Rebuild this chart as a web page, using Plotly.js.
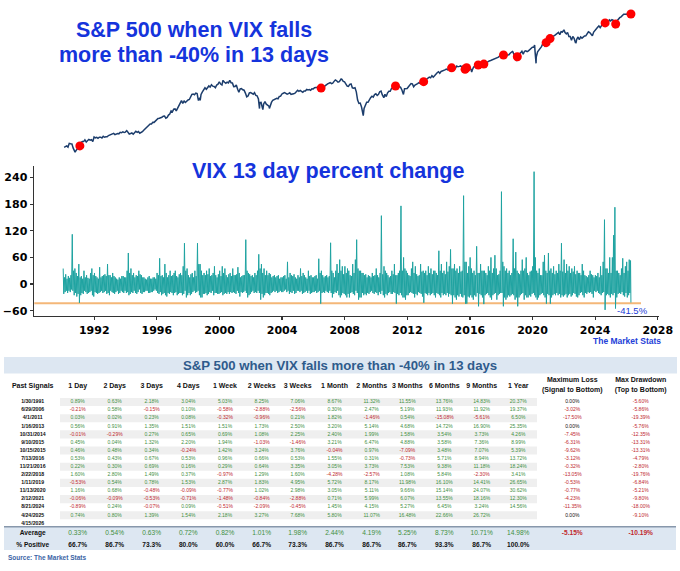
<!DOCTYPE html>
<html><head><meta charset="utf-8">
<script src="https://cdn.plot.ly/plotly-3.0.1.min.js"></script>
<style>html,body{margin:0;padding:0;background:#fff}#chart{width:680px;height:571px}</style>
</head><body><div id="chart"></div>
<script>
// ---------------- DATA ----------------
// S&P 500 month-end levels (Jan 1990 .. Mar 2026), read/ (log scale)
const spxStartYear = 1990;
const spxMonthly = [
 329,332,340,331,361,358,356,323,306,304,322,330,
 344,367,375,375,390,371,388,395,388,392,375,417,
 409,413,404,415,415,408,424,414,418,419,431,436,
 439,443,452,440,450,451,448,464,459,468,462,466,
 482,467,446,451,457,444,458,475,463,472,454,459,
 470,487,501,515,533,545,562,562,584,582,605,616,
 636,640,645,654,669,671,640,652,687,705,757,741,
 786,791,757,801,848,885,954,899,947,915,955,970,
 980,1049,1102,1112,1091,1134,1121,957,1017,1099,1164,1229,
 1280,1238,1286,1335,1302,1373,1329,1320,1283,1363,1389,1469,
 1394,1366,1499,1452,1421,1455,1431,1518,1437,1429,1315,1320,
 1366,1240,1160,1249,1256,1224,1211,1134,1041,1060,1139,1148,
 1130,1107,1147,1076,1067,990,912,916,815,886,936,880,
 856,841,848,917,964,975,990,1008,996,1051,1058,1112,
 1131,1145,1126,1107,1121,1141,1102,1104,1115,1130,1174,1212,
 1181,1204,1181,1157,1192,1191,1234,1220,1229,1207,1249,1248,
 1280,1281,1295,1311,1270,1270,1277,1304,1336,1378,1401,1418,
 1438,1407,1421,1482,1531,1503,1455,1474,1527,1549,1481,1468,
 1379,1331,1323,1386,1400,1280,1267,1283,1166,969,896,903,
 826,735,798,873,919,919,987,1021,1057,1036,1096,1115,
 1074,1104,1169,1187,1089,1031,1102,1049,1141,1183,1181,1258,
 1286,1327,1326,1364,1345,1321,1292,1219,1131,1253,1247,1258,
 1312,1366,1408,1398,1310,1362,1379,1407,1441,1412,1416,1426,
 1498,1515,1569,1598,1631,1606,1686,1633,1682,1757,1806,1848,
 1783,1859,1872,1884,1924,1960,1931,2003,1972,2018,2068,2059,
 1995,2105,2068,2086,2107,2063,2104,1972,1920,2079,2080,2044,
 1940,1932,2060,2065,2097,2099,2174,2171,2168,2126,2199,2239,
 2279,2364,2363,2384,2412,2423,2470,2472,2519,2575,2648,2674,
 2824,2714,2641,2648,2705,2718,2816,2902,2914,2712,2760,2507,
 2704,2784,2834,2946,2752,2942,2980,2926,2977,3038,3141,3231,
 3226,2954,2585,2912,3044,3100,3271,3500,3363,3270,3622,3756,
 3714,3811,3973,4181,4204,4298,4395,4523,4308,4605,4567,4766,
 4516,4374,4530,4132,4132,3785,4130,3955,3586,3872,4080,3840,
 4077,3970,4109,4169,4180,4450,4589,4508,4288,4194,4568,4770,
 4846,5096,5254,5036,5278,5460,5522,5648,5762,5705,6032,5882,
 6041,5955,5612,5569,5912,6205,6339,6460,6688,6840,6849,6845,
 6940,6880,6650
];
// intra-month extremes visible on the line
const spxExtremeDates  = ['1990-10-11','1998-10-08','2000-03-24','2002-07-23','2002-10-09','2003-03-11','2007-10-09','2009-03-09','2010-07-02','2011-10-03','2015-08-25','2016-02-11','2018-01-26','2018-09-20','2018-12-24','2020-02-19','2020-03-23','2022-01-03','2022-10-12','2025-04-08'];
const spxExtremeValues = [295,960,1527,797,777,800,1565,677,1022,1099,1867,1829,2873,2931,2351,3386,2237,4797,3577,4982];

// Signal dates (VIX fell more than -40% in 13 days) and S&P level on those dates
const signalDates = ['1/30/1991','6/29/2006','4/1/2011','1/16/2013','10/31/2014','9/10/2015','10/15/2015','7/13/2016','11/21/2016','2/22/2018','1/11/2019','11/13/2020','2/12/2021','8/21/2024','4/24/2025','4/15/2026'];
const signalSpx   = [340,1272,1332,1472,2018,1952,2023,2152,2198,2703,2596,3585,3934,5620,5484,6890];

// VIX 13-day percent change: monthly high and monthly low readings (Jan 1990 .. Apr 2026)
const vixStartYear = 1990;
const vixMonthlyHigh = [
 35,15,22,12,18,14,20,112,30,35,25,18,
 45,15,18,12,30,15,20,14,12,25,35,20,
 25,18,15,12,38,15,18,20,22,18,45,20,
 20,15,25,18,15,12,10,15,12,18,18,15,
 15,30,70,25,35,20,25,15,20,18,30,22,
 20,15,15,12,10,15,18,12,12,15,15,12,
 25,20,58,18,20,15,45,25,15,20,30,18,
 20,25,30,18,15,22,25,20,40,92,30,35,
 20,15,22,25,15,30,18,92,45,45,30,20,
 25,20,30,22,35,18,20,25,40,20,15,22,
 30,18,40,25,35,20,15,22,25,18,35,20,
 20,22,38,25,15,18,20,20,100,30,25,22,
 18,20,15,25,20,30,67,35,45,25,35,20,
 30,20,25,22,15,18,20,15,18,20,12,15,
 15,18,20,12,50,15,25,20,18,22,15,12,
 20,15,35,18,25,20,15,12,30,18,20,15,
 15,18,20,12,57,25,30,20,15,18,20,15,
 18,93,30,25,15,30,45,25,55,30,40,22,
 40,25,35,30,20,18,45,25,55,100,35,30,
 30,25,25,20,22,15,20,18,15,25,18,20,
 35,20,15,25,154,22,40,30,25,20,15,18,
 30,22,45,20,20,25,30,176,30,60,35,30,
 25,20,18,35,50,25,40,22,18,20,45,28,
 30,25,30,20,40,25,35,22,30,30,25,20,
 75,30,45,25,30,22,50,28,40,78,35,35,
 45,30,35,25,40,28,30,199,50,50,25,40,
 60,35,25,30,20,85,25,25,45,30,30,30,
 25,20,40,30,60,25,35,65,35,20,22,30,
 208,50,40,30,35,25,30,20,25,102,35,72,
 30,25,22,30,55,30,35,60,25,20,28,30,
 40,253,60,30,25,35,20,20,50,65,30,25,
 70,30,35,25,40,22,30,25,45,30,92,28,
 55,25,45,30,40,25,35,28,40,22,30,25,
 25,20,45,30,20,18,15,20,30,22,20,15,
 20,18,25,15,40,20,50,145,35,35,25,60,
 25,60,110,173,30,30,25,20,35,58,25,40,
 50,30,55,53
];
const vixMonthlyLow = [
 -22,-18,-15,-20,-15,-18,-12,-15,-25,-20,-28,-22,
 -42,-25,-20,-22,-15,-18,-22,-20,-18,-15,-25,-28,
 -18,-20,-22,-20,-18,-15,-20,-18,-15,-22,-20,-25,
 -15,-18,-20,-22,-18,-15,-22,-20,-15,-18,-20,-15,
 -20,-18,-25,-22,-18,-20,-15,-20,-22,-18,-12,-20,
 -22,-18,-18,-15,-15,-20,-20,-18,-18,-15,-12,-15,
 -20,-22,-18,-25,-22,-20,-25,-28,-20,-22,-18,-20,
 -25,-20,-18,-25,-22,-20,-20,-25,-22,-15,-30,-25,
 -20,-25,-22,-18,-15,-20,-18,-15,-25,-30,-30,-22,
 -22,-20,-25,-22,-18,-20,-15,-25,-20,-20,-22,-22,
 -20,-18,-25,-22,-20,-22,-18,-22,-18,-20,-18,-20,
 -22,-15,-20,-28,-18,-20,-18,-15,-20,-30,-25,-22,
 -18,-15,-20,-18,-20,-15,-20,-35,-22,-30,-25,-20,
 -20,-22,-25,-20,-18,-15,-18,-15,-20,-18,-15,-18,
 -18,-15,-12,-18,-15,-22,-18,-20,-15,-22,-20,-15,
 -15,-18,-15,-22,-20,-18,-15,-20,-15,-22,-20,-18,
 -18,-15,-20,-18,-15,-44,-20,-18,-20,-15,-18,-20,
 -15,-20,-30,-22,-18,-20,-15,-25,-30,-25,-20,-22,
 -25,-30,-22,-30,-20,-18,-22,-25,-15,-20,-35,-30,
 -30,-20,-25,-22,-25,-20,-22,-18,-15,-20,-22,-18,
 -20,-25,-18,-22,-15,-25,-30,-22,-25,-20,-18,-22,
 -22,-18,-20,-44,-22,-25,-20,-25,-30,-30,-35,-25,
 -25,-20,-18,-20,-22,-30,-22,-25,-18,-20,-22,-28,
 -42,-20,-22,-25,-20,-25,-22,-20,-25,-30,-20,-22,
 -25,-30,-20,-25,-22,-25,-20,-28,-22,-25,-44,-25,
 -30,-35,-25,-28,-22,-28,-30,-25,-44,-44,-28,-30,
 -25,-30,-35,-25,-28,-20,-50,-22,-25,-30,-45,-25,
 -22,-20,-25,-30,-35,-25,-22,-20,-35,-25,-22,-20,
 -20,-50,-30,-35,-30,-25,-28,-25,-22,-25,-35,-30,
 -50,-30,-25,-22,-20,-35,-25,-30,-30,-25,-28,-22,
 -20,-25,-30,-35,-30,-25,-22,-20,-25,-30,-44,-22,
 -25,-44,-30,-25,-22,-25,-20,-25,-22,-30,-25,-28,
 -25,-22,-30,-25,-22,-28,-25,-20,-22,-28,-30,-25,
 -20,-18,-25,-30,-20,-22,-18,-20,-18,-22,-30,-15,
 -18,-15,-20,-22,-25,-20,-18,-58,-25,-22,-25,-30,
 -22,-25,-20,-55,-30,-22,-20,-22,-18,-25,-28,-20,
 -30,-25,-20,-41.5
];
const vixThreshold = -43;
const vixTicks = [-60,0,60,120,180,240];

// Table
const tableHeaders = ['Past Signals','1 Day','2 Days','3 Days','4 Days','1 Week','2 Weeks','3 Weeks','1 Month','2 Months','3 Months','6 Months','9 Months','1 Year','Maximum Loss<br>(Signal to Bottom)','Max Drawdown<br>(Top to Bottom)'];
const r1Day    = [0.89,-0.21,0.03,0.56,-0.01,0.45,0.46,0.53,0.22,1.60,-0.53,1.16,-0.06,-0.89,0.74,null];
const r2Days   = [0.63,0.58,0.02,0.91,-0.29,0.04,0.48,0.43,0.30,2.80,0.54,0.68,-0.09,0.24,0.80,null];
const r3Days   = [2.18,-0.15,0.23,1.35,0.27,1.32,0.34,0.67,0.69,1.49,0.78,-0.48,-0.53,-0.07,1.39,null];
const r4Days   = [3.04,0.10,0.08,1.51,0.65,2.20,-0.24,0.53,0.16,0.37,1.53,-0.09,-0.71,0.09,1.54,null];
const r1Week   = [5.03,-0.58,-0.32,1.51,0.69,1.94,1.42,0.96,0.29,-0.97,2.87,-0.77,-1.48,-0.51,2.18,null];
const r2Weeks  = [8.25,-2.88,-0.96,1.73,1.08,-1.03,3.24,0.66,0.64,1.29,1.83,1.02,-0.84,-2.09,3.27,null];
const r3Weeks  = [7.06,-2.56,0.21,2.50,2.25,-1.46,3.76,0.53,3.35,1.60,4.95,2.98,-2.88,-0.45,7.68,null];
const r1Month  = [8.67,0.30,1.82,3.20,2.40,3.21,-0.04,1.55,3.05,-4.28,5.72,3.05,0.71,1.45,5.80,null];
const r2Months = [11.32,2.47,-1.46,5.14,1.99,6.47,0.97,0.31,3.73,-2.57,8.17,5.11,5.99,4.15,11.07,null];
const r3Months = [11.55,5.19,0.54,4.68,1.58,4.88,-7.09,-0.73,7.53,1.08,11.98,9.66,6.07,5.27,16.48,null];
const r6Months = [13.76,11.93,-15.08,14.72,3.54,3.58,3.48,5.71,9.38,5.84,16.10,15.14,13.55,6.45,22.66,null];
const r9Months = [14.83,11.92,-5.61,16.90,3.73,7.36,7.07,8.94,11.18,-2.30,14.41,24.07,18.16,3.24,26.72,null];
const r1Year   = [20.37,19.37,6.50,25.35,4.26,8.99,5.39,13.72,18.24,3.41,26.65,30.62,12.30,14.56,null,null];
const maxLoss     = [0.00,-3.02,-17.50,0.00,-7.45,-6.31,-9.62,-3.12,-0.32,-13.05,-0.53,-0.77,-4.23,-11.35,0.00,null];
const maxDrawdown = [-5.60,-5.86,-19.39,-5.76,-12.35,-13.31,-13.31,-4.79,-2.80,-19.76,-6.84,-5.21,-9.80,-18.00,-9.10,null];
const averageRow  = [0.33,0.54,0.63,0.72,0.82,1.01,1.98,2.44,4.19,5.25,8.73,10.71,14.98,-5.15,-10.19];
const pctPositive = [66.7,86.7,73.3,80.0,60.0,66.7,73.3,86.7,86.7,86.7,93.3,86.7,100.0];

// ---------------- BUILD ----------------
const pad = n => (n<10?'0':'')+n;
const monthDate = (startYear, i, day) => (startYear+Math.floor(i/12))+'-'+pad(i%12+1)+'-'+pad(day);
const toISO = s => { const p=s.split('/'); return p[2]+'-'+pad(+p[0])+'-'+pad(+p[1]); };
const signalISO = signalDates.map(toISO);

let spxPts = spxMonthly.map((v,i)=>[monthDate(spxStartYear,i,28),v]);
spxExtremeDates.forEach((d,i)=>spxPts.push([d,spxExtremeValues[i]]));
signalISO.forEach((d,i)=>spxPts.push([d,signalSpx[i]]));
spxPts.sort((a,b)=>a[0]<b[0]?-1:a[0]>b[0]?1:0);

// zig-zag: each month's high reading then its low reading
const vixX=[], vixY=[];
vixMonthlyHigh.forEach((h,i)=>{
  vixX.push(monthDate(vixStartYear,i,6)); vixY.push(h);
  vixX.push(monthDate(vixStartYear,i,20)); vixY.push(vixMonthlyLow[i]);
});
vixX[vixX.length-1] = signalISO[signalISO.length-1];

const W=680,H=571;
const X0=34.3, X1=659;
const xRange=['1988-03-03','2028-01-30'];
const dom=[X0/W, X1/W];

const GREEN='#3f8f3f', RED='#c0272d';
const colX=[32.7,77.7,114.7,151.7,188.3,225,261.7,297.7,334.5,371.7,407.3,444.3,481.7,518.3,572.3,640.7];
const rowY=r=>402+8.09*r;
const valueCols=[r1Day,r2Days,r3Days,r4Days,r1Week,r2Weeks,r3Weeks,r1Month,r2Months,r3Months,r6Months,r9Months,r1Year,maxLoss,maxDrawdown];
const fmt=v=>v.toFixed(2)+'%';

const traces=[];
traces.push({x:spxPts.map(p=>p[0]),y:spxPts.map(p=>p[1]),xaxis:'x',yaxis:'y',type:'scatter',mode:'lines',
  line:{color:'#1c3d6c',width:1.5},hoverinfo:'skip'});
traces.push({x:signalISO,y:signalSpx,xaxis:'x',yaxis:'y',type:'scatter',mode:'markers',
  marker:{color:'#ff0000',size:9},hoverinfo:'skip'});
traces.push({x:vixX,y:vixY,xaxis:'x2',yaxis:'y2',type:'scatter',mode:'lines',
  line:{color:'#1fa3a1',width:1},hoverinfo:'skip'});

// table text
const tTrace=(x,y,t,size,color,weight)=>({x:x,y:y,text:t,xaxis:'x3',yaxis:'y3',type:'scatter',mode:'text',
  textposition:'middle center',cliponaxis:false,hoverinfo:'skip',
  textfont:{family:'Liberation Sans, Arial, sans-serif',size:size,color:color,weight:weight}});

traces.push(tTrace(colX, colX.map((c,i)=>i>=14?385.3:386.7), tableHeaders, 7, '#111', 700));
traces.push(tTrace(signalDates.map(()=>colX[0]), signalDates.map((d,r)=>rowY(r)), signalDates, 5.2, '#111', 700));
{ const xs=[],ys=[],ts=[],cs=[];
  valueCols.forEach((col,c)=>col.forEach((v,r)=>{ if(v===null) return;
    xs.push(colX[c+1]); ys.push(rowY(r)); ts.push(fmt(v));
    cs.push(c>=13 ? (v<0?RED:'#111') : (v<0?RED:GREEN)); }));
  traces.push(tTrace(xs,ys,ts,5,cs,400));
}
traces.push(tTrace([colX[0]],[533.3],['Average'],6.6,'#111',700));
traces.push(tTrace(averageRow.slice(0,13).map((v,i)=>colX[i+1]),averageRow.slice(0,13).map(()=>533.3),
  averageRow.slice(0,13).map(fmt),6.6,GREEN,400));
traces.push(tTrace(averageRow.slice(13).map((v,i)=>colX[i+14]),averageRow.slice(13).map(()=>533.3),
  averageRow.slice(13).map(fmt),6.6,RED,700));
traces.push(tTrace([colX[0]],[545],['% Positive'],6.6,'#111',700));
traces.push(tTrace(pctPositive.map((v,i)=>colX[i+1]),pctPositive.map(()=>545),
  pctPositive.map(v=>v.toFixed(1)+'%'),6.6,'#111',700));

const shapes=[];
shapes.push({type:'rect',xref:'x3',yref:'y3',x0:4,x1:677,y0:357,y1:373.5,fillcolor:'#dde7f2',line:{width:0},layer:'below'});
for(let r=0;r<signalDates.length;r+=2){
  shapes.push({type:'rect',xref:'x3',yref:'y3',x0:60,x1:537,y0:rowY(r)-4.05,y1:rowY(r)+4.05,fillcolor:'#efefef',line:{width:0},layer:'below'});
}
shapes.push({type:'rect',xref:'x3',yref:'y3',x0:4,x1:676,y0:526.7,y1:550,fillcolor:'#dde7f2',line:{width:0},layer:'below'});
shapes.push({type:'line',xref:'x3',yref:'y3',x0:4,x1:676,y0:526.7,y1:526.7,line:{color:'#8797ab',width:1.5}});
shapes.push({type:'line',xref:'x2 domain',yref:'y2',x0:0,x1:(641-X0)/(X1-X0),y0:vixThreshold,y1:vixThreshold,
  line:{color:'#f4b778',width:2},layer:'below'});

const T='Liberation Sans, Arial, sans-serif';
const BLUE='#1534dc';
const ann=(text,x,y,size,color,opts)=>Object.assign({text:text,xref:'paper',yref:'paper',x:x/W,y:1-y/H,
  showarrow:false,font:{family:T,size:size,color:color,weight:700},xanchor:'center',yanchor:'middle'},opts||{});
const lastIdx=vixY.length-1;
const annotations=[
  ann('S&P 500 when VIX falls',194,29.5,21.5,BLUE),
  ann('more than -40% in 13 days',194,54.5,21.5,BLUE),
  ann('VIX 13 day percent change',328,171.5,21.5,BLUE),
  {text:vixY[lastIdx].toFixed(1)+'%',xref:'x2',yref:'y2',x:vixX[lastIdx],y:vixY[lastIdx],
    showarrow:false,xanchor:'center',yanchor:'middle',xshift:2,yshift:-8,font:{family:T,size:9.5,color:'#2340d8'}},
  ann('The Market Stats',626.5,341.5,8.5,'#2340d8'),
  ann('S&P 500 when VIX falls more than -40% in 13 days',339.7,365.3,13.2,'#2f5b8c'),
  ann('Source: The Market Stats',6,557.3,6.5,'#3b63a5',{xanchor:'left'})
];

const tickFont={family:'DejaVu Sans, sans-serif',size:11,color:'#000',weight:700};
const layout={
  width:W,height:H,margin:{l:0,r:0,t:0,b:0},paper_bgcolor:'#fff',plot_bgcolor:'rgba(0,0,0,0)',showlegend:false,
  xaxis:{type:'date',domain:dom,range:xRange,visible:false,anchor:'y'},
  yaxis:{type:'log',domain:[1-160/H,1-2/H],range:[2.392,3.957],visible:false,anchor:'x'},
  xaxis2:{type:'date',domain:dom,range:xRange,anchor:'y2',showline:true,linecolor:'#333',linewidth:1.3,
    ticks:'outside',ticklen:3,tickwidth:1.2,tickcolor:'#333',tick0:'1992-01-01',dtick:'M48',tickformat:'%Y',
    tickfont:tickFont,showgrid:false,zeroline:false},
  yaxis2:{domain:[1-316/H,1-166.2/H],range:[-71.8,265.3],anchor:'x2',showline:true,linecolor:'#333',linewidth:1.3,
    ticks:'outside',ticklen:3.5,tickwidth:1.2,tickcolor:'#333',tickvals:vixTicks,tickfont:tickFont,
    showgrid:false,zeroline:false},
  xaxis3:{domain:[0,1],range:[0,W],visible:false,anchor:'y3'},
  yaxis3:{domain:[0,1-355/H],range:[H,355],visible:false,anchor:'x3'},
  shapes:shapes,annotations:annotations
};
Plotly.newPlot('chart',traces,layout,{staticPlot:true,displayModeBar:false});
</script></body></html>
